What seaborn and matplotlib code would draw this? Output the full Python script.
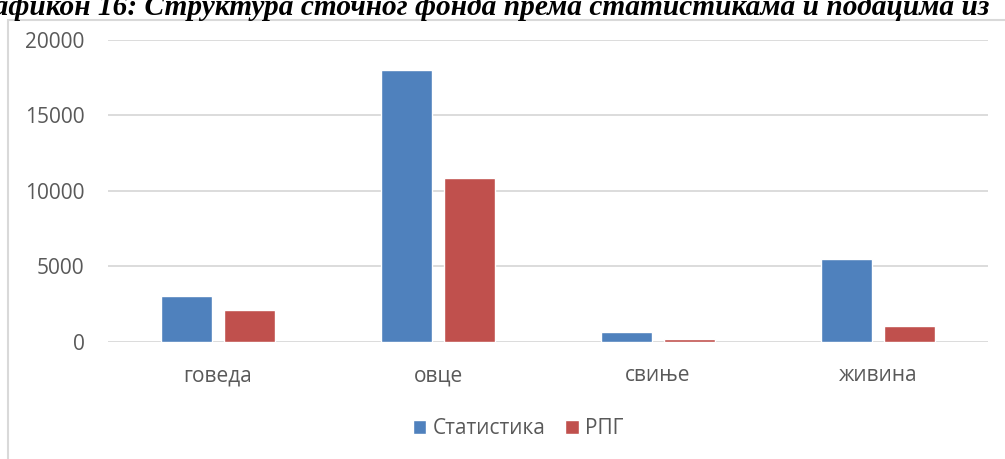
import matplotlib
matplotlib.use("Agg")
import matplotlib.pyplot as plt
import seaborn as sns
import pandas as pd
from matplotlib.patches import Rectangle

categories = ["говеда", "овце", "свиње", "живина"]
series_names = ["Статистика", "РПГ"]
statistika = [3000, 18000, 620, 5500]
rpg = [2070, 10860, 180, 1020]
yticks = [0, 5000, 10000, 15000, 20000]
title = "Графикон 16: Структура сточног фонда према статистикама и подацима из"

df = pd.DataFrame({
    "cat": categories * 2,
    "val": statistika + rpg,
    "series": [series_names[0]] * 4 + [series_names[1]] * 4,
})

sns.set_theme(style="white")
plt.rcParams["font.family"] = ["Open Sans", "DejaVu Sans"]

W, H = 1005, 459
fig = plt.figure(figsize=(W / 100, H / 100), dpi=100)
fig.patch.set_facecolor("white")

# outer chart frame
fig.patches.append(Rectangle((8 / W, -0.1), 1.2, 1 - 20 / H + 0.1,
                             transform=fig.transFigure, fill=False,
                             edgecolor="#d9d9d9", linewidth=1.5, zorder=0))

fig.text(990 / W, 1 - 15 / H, title, ha="right", va="baseline",
         family="Liberation Serif", fontweight="bold", fontstyle="italic",
         fontsize=21.15, color="black")

ax = fig.add_axes([108 / W, 1 - 341.7 / H, 880 / W, (341.7 - 40) / H])
sns.barplot(data=df, x="cat", y="val", hue="series",
            palette=["#4F81BD", "#C0504D"], width=0.573, gap=0.18,
            ax=ax, saturation=1)

ax.set_ylim(0, 20000)
ax.set_yticks(yticks)
ax.set_xlabel("")
ax.set_ylabel("")
for s in ax.spines.values():
    s.set_visible(False)
ax.set_axisbelow(True)
ax.yaxis.grid(True, color="#d9d9d9", linewidth=1.3)
ax.tick_params(axis="both", length=0, labelsize=15, colors="#595959")
ax.tick_params(axis="y", pad=17)
ax.tick_params(axis="x", pad=17)

leg = ax.legend(loc="center", bbox_to_anchor=(0.466, -0.288), ncol=2,
                frameon=False, fontsize=15, handlelength=0.65,
                handleheight=0.65, handletextpad=0.3, columnspacing=0.95)
for t in leg.get_texts():
    t.set_color("#595959")

fig.savefig("out.png", dpi=100)
